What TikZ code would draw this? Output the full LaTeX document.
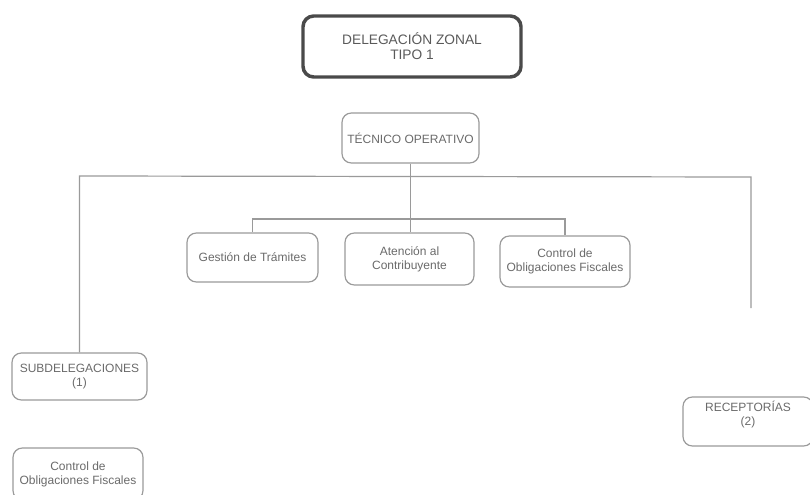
\documentclass[tikz,border=0pt]{standalone}
\usepackage{fontspec}
\setmainfont{Liberation Sans}
\definecolor{linegray}{HTML}{9A9A9A}
\definecolor{textgray}{HTML}{6A6A6A}
\definecolor{darkframe}{HTML}{4A4A4A}
\begin{document}
\begin{tikzpicture}[x=0.75pt,y=-0.75pt,
  box/.style={draw=linegray, line width=0.9pt, rounded corners=7pt, inner sep=0pt,
    font=\fontsize{9}{10.5}\selectfont, text=textgray, align=center},
  mainbox/.style={draw=darkframe, line width=2.6pt, rounded corners=8pt, inner sep=0pt,
    font=\fontsize{10.3}{11.3}\selectfont, text=textgray!85!black, align=center},
  lbl/.style={font=\fontsize{9}{10.5}\selectfont, text=textgray, align=center, inner sep=0pt},
  conn/.style={draw=linegray, line width=0.9pt}]
\clip (0,0) rectangle (810,495);
% boxes
\node[mainbox, minimum width=163.5pt, minimum height=45.75pt] (main) at (412,46.5) {DELEGACIÓN ZONAL\\TIPO 1};
\node[box, minimum width=102.75pt, minimum height=37.5pt] (tec) at (410.5,138) {TÉCNICO OPERATIVO};
\node[box, minimum width=98.25pt, minimum height=36.75pt] (ges) at (252.5,257.5) {Gestión de Trámites};
\node[box, minimum width=96.75pt, minimum height=39pt] (ate) at (409.5,259) {Atención al\\Contribuyente};
\node[box, minimum width=97.5pt, minimum height=38.25pt] (con) at (565,261.5) {Control de\\Obligaciones Fiscales};
\node[box, minimum width=101.25pt, minimum height=35.25pt] (sub) at (79.5,376.5) {SUBDELEGACIONES\\(1)};
\node[box, minimum width=97.5pt, minimum height=36.75pt] (rec) at (748,421.5) {};
\node[lbl] (rectxt) at (748,414.5) {RECEPTORÍAS\\(2)};
\node[box, minimum width=97.5pt, minimum height=39pt] (con2) at (78,474) {Control de\\Obligaciones Fiscales};
% connectors
\coordinate (barL) at (79.5,176);
\coordinate (barR) at (751,177);
\coordinate (recEnd) at (751,308);
\coordinate (midL) at (252.5,219);
\draw[conn] (tec.south) -- (tec.south |- ate.north);
\draw[conn] (sub.north) -- (barL) -- (barR) -- (recEnd);
\draw[conn] (ges.north) -- (midL) -| (con.north);
\end{tikzpicture}
\end{document}
